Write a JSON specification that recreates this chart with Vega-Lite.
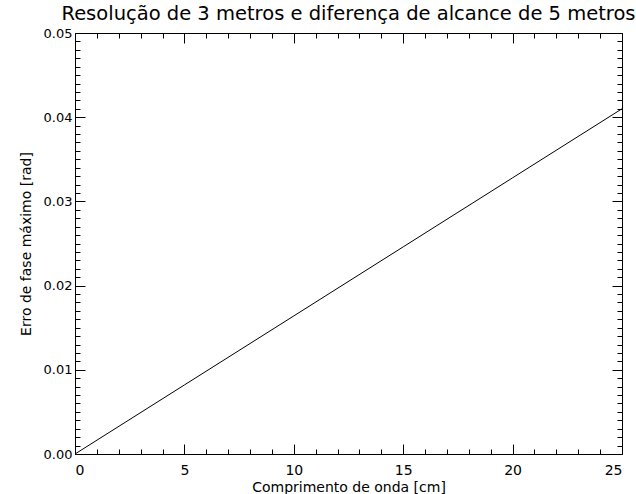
{
  "$schema": "https://vega.github.io/schema/vega-lite/v6.json",
  "autosize": {"type": "none"},
  "width": 547,
  "height": 421,
  "padding": {"left": 75, "top": 33, "right": 14, "bottom": 40},
  "background": "white",
  "title": {
    "text": "Resolução de 3 metros e diferença de alcance de 5 metros",
    "font": "DejaVu Sans",
    "fontSize": 19.5,
    "fontWeight": "normal",
    "color": "#000",
    "anchor": "middle",
    "offset": 3
  },
  "config": {
    "view": {"stroke": "#000", "strokeWidth": 1},
    "axis": {
      "domain": false,
      "grid": false,
      "ticks": true,
      "tickColor": "#000",
      "tickWidth": 1,
      "tickOpacity": 1,
      "labelFont": "DejaVu Sans",
      "labelFontSize": 13,
      "labelColor": "#000",
      "titleFont": "DejaVu Sans",
      "titleFontSize": 14,
      "titleFontWeight": "normal",
      "titleColor": "#000"
    }
  },
  "data": {
    "values": [
      {"lambda": 0, "erro": 0},
      {"lambda": 5, "erro": 0.0082},
      {"lambda": 10, "erro": 0.0164},
      {"lambda": 15, "erro": 0.0246},
      {"lambda": 20, "erro": 0.0328},
      {"lambda": 25, "erro": 0.041}
    ]
  },
  "resolve": {"axis": {"x": "independent", "y": "independent"}},
  "layer": [
    {
      "mark": {"type": "line", "color": "#000", "strokeWidth": 1},
      "encoding": {
        "x": {"field": "lambda", "type": "quantitative",
          "scale": {"domain": [0, 25], "nice": false, "zero": false},
          "axis": {"orient": "bottom", "values": [0, 5, 10, 15, 20, 25], "tickSize": -10,
            "labelPadding": 19, "labelFontSize": 14, "format": "d",
            "title": "Comprimento de onda [cm]", "titlePadding": 3}},
        "y": {"field": "erro", "type": "quantitative",
          "scale": {"domain": [0, 0.05], "nice": false, "zero": false},
          "axis": {"orient": "left", "values": [0, 0.01, 0.02, 0.03, 0.04, 0.05], "tickSize": -10,
            "labelPadding": 13, "format": ".2f",
            "title": "Erro de fase máximo [rad]", "titlePadding": 10}}
      }
    },
    {
      "mark": {"type": "line", "opacity": 0},
      "encoding": {
        "x": {"field": "lambda", "type": "quantitative",
          "axis": {"orient": "bottom", "values": [1,2,3,4,6,7,8,9,11,12,13,14,16,17,18,19,21,22,23,24], "tickSize": -5, "labels": false, "title": null}},
        "y": {"field": "erro", "type": "quantitative",
          "axis": {"orient": "left", "values": [0.001,0.002,0.003,0.004,0.005,0.006,0.007,0.008,0.009,0.011,0.012,0.013,0.014,0.015,0.016,0.017,0.018,0.019,0.021,0.022,0.023,0.024,0.025,0.026,0.027,0.028,0.029,0.031,0.032,0.033,0.034,0.035,0.036,0.037,0.038,0.039,0.041,0.042,0.043,0.044,0.045,0.046,0.047,0.048,0.049], "tickSize": -5, "labels": false, "title": null}}
      }
    },
    {
      "mark": {"type": "line", "opacity": 0},
      "encoding": {
        "x": {"field": "lambda", "type": "quantitative",
          "axis": {"orient": "top", "values": [0, 5, 10, 15, 20, 25], "tickSize": -10, "labels": false, "title": null}},
        "y": {"field": "erro", "type": "quantitative",
          "axis": {"orient": "right", "values": [0, 0.01, 0.02, 0.03, 0.04, 0.05], "tickSize": -10, "labels": false, "title": null}}
      }
    },
    {
      "mark": {"type": "line", "opacity": 0},
      "encoding": {
        "x": {"field": "lambda", "type": "quantitative",
          "axis": {"orient": "top", "values": [1,2,3,4,6,7,8,9,11,12,13,14,16,17,18,19,21,22,23,24], "tickSize": -5, "labels": false, "title": null}},
        "y": {"field": "erro", "type": "quantitative",
          "axis": {"orient": "right", "values": [0.001,0.002,0.003,0.004,0.005,0.006,0.007,0.008,0.009,0.011,0.012,0.013,0.014,0.015,0.016,0.017,0.018,0.019,0.021,0.022,0.023,0.024,0.025,0.026,0.027,0.028,0.029,0.031,0.032,0.033,0.034,0.035,0.036,0.037,0.038,0.039,0.041,0.042,0.043,0.044,0.045,0.046,0.047,0.048,0.049], "tickSize": -5, "labels": false, "title": null}}
      }
    }
  ]
}
